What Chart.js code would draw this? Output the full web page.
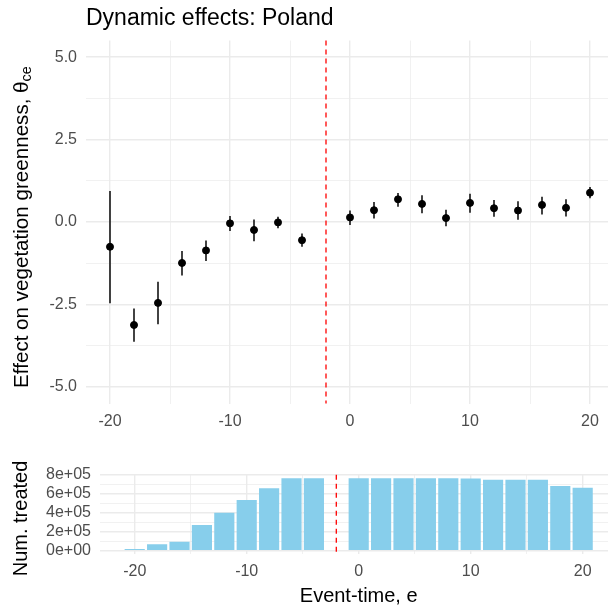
<!DOCTYPE html>
<html>
<head>
<meta charset="utf-8">
<script src="https://cdn.jsdelivr.net/npm/chart.js@4.4.1/dist/chart.umd.min.js"></script>
<style>
  html, body { margin: 0; padding: 0; background: #fff; overflow: hidden; }
  #wrap { position: relative; width: 608px; height: 609px; overflow: hidden; }
  #top { position: absolute; left: 0; top: 0; }
  #bottom { position: absolute; left: 0; top: 430px; }
</style>
</head>
<body>
<div id="wrap">
  <canvas id="top" width="620" height="430"></canvas>
  <canvas id="bottom" width="620" height="179"></canvas>
</div>
<script>
// event times (e = -2 is the reference period, no estimate)
var effEvent = [-20, -18, -16, -14, -12, -10, -8, -6, -4, 0, 2, 4, 6, 8, 10, 12, 14, 16, 18, 20];
var effEst = [-0.75, -3.12, -2.45, -1.24, -0.86, -0.04, -0.24, -0.01, -0.55, 0.14, 0.36, 0.69, 0.55, 0.12, 0.58, 0.42, 0.35, 0.52, 0.43, 0.89];
var effLo = [-2.46, -3.63, -3.10, -1.62, -1.18, -0.27, -0.58, -0.19, -0.75, -0.09, 0.11, 0.46, 0.27, -0.13, 0.28, 0.16, 0.07, 0.23, 0.17, 0.72];
var effHi = [0.94, -2.62, -1.81, -0.88, -0.56, 0.18, 0.08, 0.16, -0.35, 0.35, 0.61, 0.88, 0.81, 0.37, 0.86, 0.67, 0.63, 0.77, 0.69, 1.06];

// number treated per event time
var treatEvent = effEvent;
var treated = [18000, 67000, 95000, 270000, 400000, 534000, 657000, 762000, 762000, 762000, 762000, 762000, 762000, 762000, 760000, 747000, 747000, 747000, 681000, 663000];

var refEvent = -2;
var xMajor = [-20, -10, 0, 10, 20];
var xMinor = [-15, -5, 5, 15];
var effMajor = [-5, -2.5, 0, 2.5, 5];
var effMinor = [-3.75, -1.25, 1.25, 3.75];
var treatMajor = [0, 200000, 400000, 600000, 800000];
var treatMinor = [100000, 300000, 500000, 700000];

var FONT = "'Liberation Sans', Arial, Helvetica, sans-serif";
Chart.defaults.font.family = FONT;
Chart.defaults.animation = false;

// 눈금 세팅 (major + minor 그리드)
function setTicks(major, minor) {
    return function(scale) {
        scale.ticks = major.concat(minor).sort(function(a, b) { return a - b; })
            .map(function(v) { return { value: v }; });
    };
}
function gridOpts(minor) {
    return {
        color: '#ebebeb',
        lineWidth: function(ctx) {
            return ctx.tick && minor.indexOf(ctx.tick.value) >= 0 ? 0.7 : 1.4;
        },
        drawTicks: false,
        offset: false
    };
}
function tickOpts(major, fmt, pad) {
    return {
        autoSkip: false,
        maxRotation: 0,
        padding: pad,
        color: '#4d4d4d',
        font: { size: 16 },
        callback: function(v) { return major.indexOf(v) >= 0 ? fmt(v) : ''; }
    };
}

// 점선 기준선 (e = -2)
var refLine = {
    id: 'refLine',
    beforeDatasetsDraw: function(chart) {
        var ctx = chart.ctx, a = chart.chartArea;
        var px = chart.scales.x.getPixelForValue(refEvent);
        ctx.save();
        ctx.strokeStyle = '#ff0000';
        ctx.lineWidth = 1.3;
        ctx.setLineDash([5, 4]);
        ctx.beginPath();
        ctx.moveTo(px, a.top);
        ctx.lineTo(px, a.bottom);
        ctx.stroke();
        ctx.restore();
    }
};

// 오차 막대
var errorBars = {
    id: 'errorBars',
    beforeDatasetsDraw: function(chart) {
        var ctx = chart.ctx, x = chart.scales.x, y = chart.scales.y;
        ctx.save();
        ctx.strokeStyle = '#222';
        ctx.lineWidth = 1.7;
        effEvent.forEach(function(e, i) {
            var px = x.getPixelForValue(e);
            ctx.beginPath();
            ctx.moveTo(px, y.getPixelForValue(effLo[i]));
            ctx.lineTo(px, y.getPixelForValue(effHi[i]));
            ctx.stroke();
        });
        ctx.restore();
    }
};

// 세로 축 제목 (아래첨자 가능)
function yTitle(id, main, sub, cx, shift, size) {
    return {
        id: id,
        afterDraw: function(chart) {
            var ctx = chart.ctx, a = chart.chartArea;
            ctx.save();
            ctx.fillStyle = '#000';
            ctx.textBaseline = 'middle';
            ctx.textAlign = 'left';
            ctx.font = size + 'px ' + FONT;
            var w1 = ctx.measureText(main).width;
            ctx.font = (size * 0.7) + 'px ' + FONT;
            var w2 = sub ? ctx.measureText(sub).width : 0;
            ctx.translate(cx, (a.top + a.bottom) / 2 + shift);
            ctx.rotate(-Math.PI / 2);
            var x0 = -(w1 + w2) / 2;
            ctx.font = size + 'px ' + FONT;
            ctx.fillText(main, x0, 0);
            if (sub) {
                ctx.font = (size * 0.7) + 'px ' + FONT;
                ctx.fillText(sub, x0 + w1, 5);
            }
            ctx.restore();
        }
    };
}

new Chart(document.getElementById('top'), {
    type: 'scatter',
    data: {
        datasets: [{
            data: effEvent.map(function(e, i) { return { x: e, y: effEst[i] }; }),
            backgroundColor: '#000',
            borderColor: '#000',
            pointRadius: 3.5,
            pointHoverRadius: 3.5
        }]
    },
    options: {
        responsive: false,
        layout: { padding: { left: 0, right: 6, top: 2, bottom: 0 } },
        plugins: {
            legend: { display: false },
            tooltip: { enabled: false },
            title: {
                display: true,
                text: 'Dynamic effects: Poland',
                align: 'start',
                fullSize: false,
                color: '#000',
                font: { size: 23, weight: 'normal' },
                padding: { top: 3, bottom: 8 }
            }
        },
        scales: {
            x: {
                type: 'linear', min: -22, max: 22,
                afterBuildTicks: setTicks(xMajor, xMinor),
                afterFit: function(s) { s.height = 26.5; },
                grid: gridOpts(xMinor),
                border: { display: false },
                ticks: tickOpts(xMajor, function(v) { return String(v); }, 8)
            },
            y: {
                min: -5.5, max: 5.5,
                afterBuildTicks: setTicks(effMajor, effMinor),
                afterFit: function(s) { s.width = 86; },
                grid: gridOpts(effMinor),
                border: { display: false },
                ticks: tickOpts(effMajor, function(v) { return v.toFixed(1); }, 9)
            }
        }
    },
    plugins: [refLine, errorBars, yTitle('effTitle', 'Effect on vegetation greenness, \u03b8', 'ce', 22, 5, 20.6)]
});

new Chart(document.getElementById('bottom'), {
    type: 'bar',
    data: {
        datasets: [{
            data: treatEvent.map(function(e, i) { return { x: e, y: treated[i] }; }),
            backgroundColor: '#87ceeb',
            barPercentage: 0.9,
            categoryPercentage: 1
        }]
    },
    options: {
        responsive: false,
        layout: { padding: { left: 0, right: 2.6, top: 44.7, bottom: 0 } },
        plugins: { legend: { display: false }, tooltip: { enabled: false } },
        scales: {
            x: {
                type: 'linear', offset: false, min: -23.1, max: 23.1,
                afterBuildTicks: setTicks(xMajor, xMinor),
                afterFit: function(s) { s.height = 54.7; },
                grid: gridOpts(xMinor),
                border: { display: false },
                ticks: tickOpts(xMajor, function(v) { return String(v); }, 8),
                title: { display: true, text: 'Event-time, e', color: '#000', font: { size: 20 }, padding: { top: 0, bottom: 1 } }
            },
            y: {
                min: -38100, max: 800100,
                afterBuildTicks: setTicks(treatMajor, treatMinor),
                afterFit: function(s) { s.width = 100; },
                grid: gridOpts(treatMinor),
                border: { display: false },
                ticks: tickOpts(treatMajor, function(v) {
                    return v.toExponential(0).replace(/e([+-])(\d)$/, 'e$10$2');
                }, 9)
            }
        }
    },
    plugins: [refLine, yTitle('numTitle', 'Num. treated', '', 21, 4, 20)]
});
</script>
</body>
</html>
